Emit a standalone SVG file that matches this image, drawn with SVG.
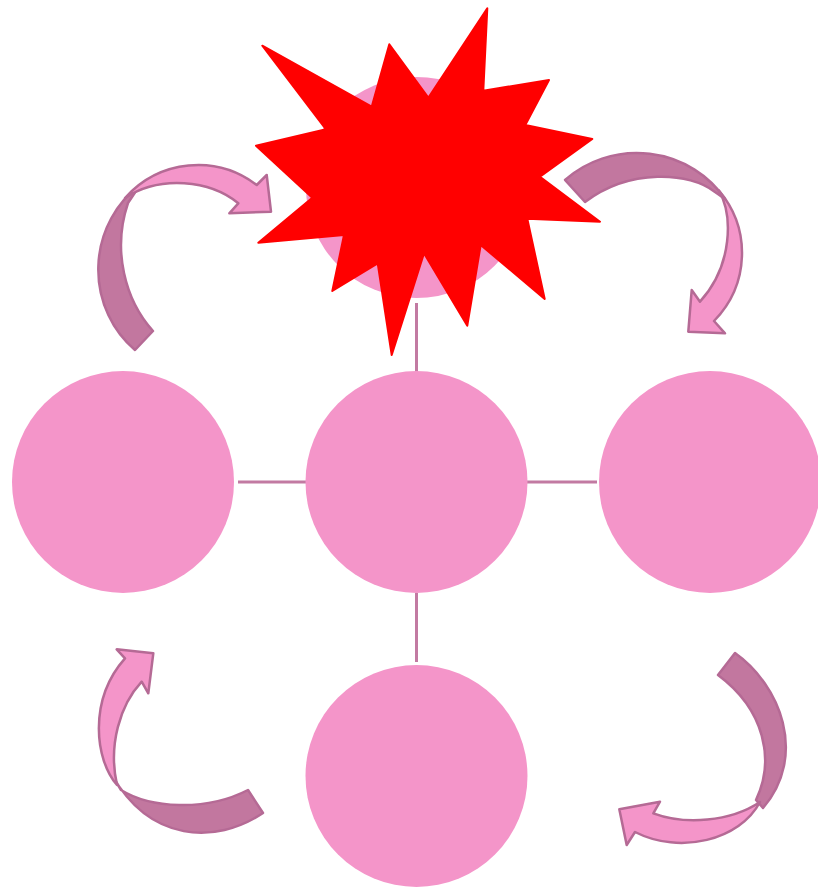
<svg xmlns="http://www.w3.org/2000/svg" width="818" height="887" viewBox="0 0 818 887">
<style>
.node{fill:#F495C9}
.link{stroke:#C27AA2;stroke-width:3;fill:none}
.dark{fill:#C2779F;stroke:#B56A95;stroke-width:2.5;stroke-linejoin:round}
.light{fill:#F495C9;stroke:#B56A95;stroke-width:2.5;stroke-linejoin:round}
.burst{fill:#FF0000;stroke:#FF0000;stroke-width:2;stroke-linejoin:round}
</style>
<rect width="818" height="887" fill="#FFFFFF"/>
<g id="connectors">
<line class="link" x1="238" y1="482" x2="306" y2="482"/>
<line class="link" x1="527" y1="482" x2="597" y2="482"/>
<line class="link" x1="416.5" y1="303" x2="416.5" y2="372"/>
<line class="link" x1="416.5" y1="593" x2="416.5" y2="662"/>
</g>
<g id="node-top">
<circle class="node" cx="416.5" cy="187.5" r="110.5"/>
<polygon class="burst" points="487.3,8.3 483.3,90.7 549,80 525.3,125 592.3,139 540,176.7 600,221.7 527.3,218.7 544.7,299 480.7,245 467.3,325.7 424,253.3 391.7,355 377.7,263.3 332.3,291 344,235 258.3,242.7 312.3,197.7 256,145.7 326,129.3 262.3,45.7 371.7,106.7 389.3,44.3 428.3,97.7"/>
</g>
<g id="node-left"><circle class="node" cx="123" cy="482" r="111"/></g>
<g id="node-center"><circle class="node" cx="416.5" cy="482" r="111"/></g>
<g id="node-right"><circle class="node" cx="710" cy="482" r="111"/></g>
<g id="node-bottom"><circle class="node" cx="416.5" cy="776" r="111"/></g>
<g id="arrows">
<g id="arrow-top-left">
<path class="dark" d="M135,350 A100,104 0 0 1 140,185 L128,203 C112,250 125,300 153,331 Z"/>
<path class="light" d="M125,198 A100,104 0 0 1 256.7,185 L266.7,175 L271,211.7 L229.3,213.3 L238.3,203.3 C210,180 160,175 125,198 Z"/>
</g>
<g id="arrow-top-right">
<path class="dark" d="M565,180 A105,100 0 0 1 725,199 L715,192 C690,172 630,168 585,202 Z"/>
<path class="light" d="M718.7,190.2 A105,100 0 0 1 714,321 L725,333.3 L688.3,331.7 L691.7,290 L700,301.7 C733,265 733,215 718.7,190.2 Z"/>
</g>
<g id="arrow-bottom-left">
<path class="dark" d="M263,813 C215,845 150,842 112,775 L121,790 C150,808 205,812 248,790 Z"/>
<path class="light" d="M117,785 C95,760 88,700 125,658.3 L116.7,649.3 L153.3,653.3 L148.3,693.3 L141.7,681.7 C120,705 108,745 117,785 Z"/>
</g>
<g id="arrow-bottom-right">
<path class="dark" d="M735,653 C780,685 808,755 763,808 L756,800 C775,760 765,710 718,675 Z"/>
<path class="light" d="M760,802 C740,840 680,855 635,832 L626.7,845 L619.3,809.3 L660,801.7 L653.3,813.3 C685,825 730,822 760,802 Z"/>
</g>
</g>
</svg>
